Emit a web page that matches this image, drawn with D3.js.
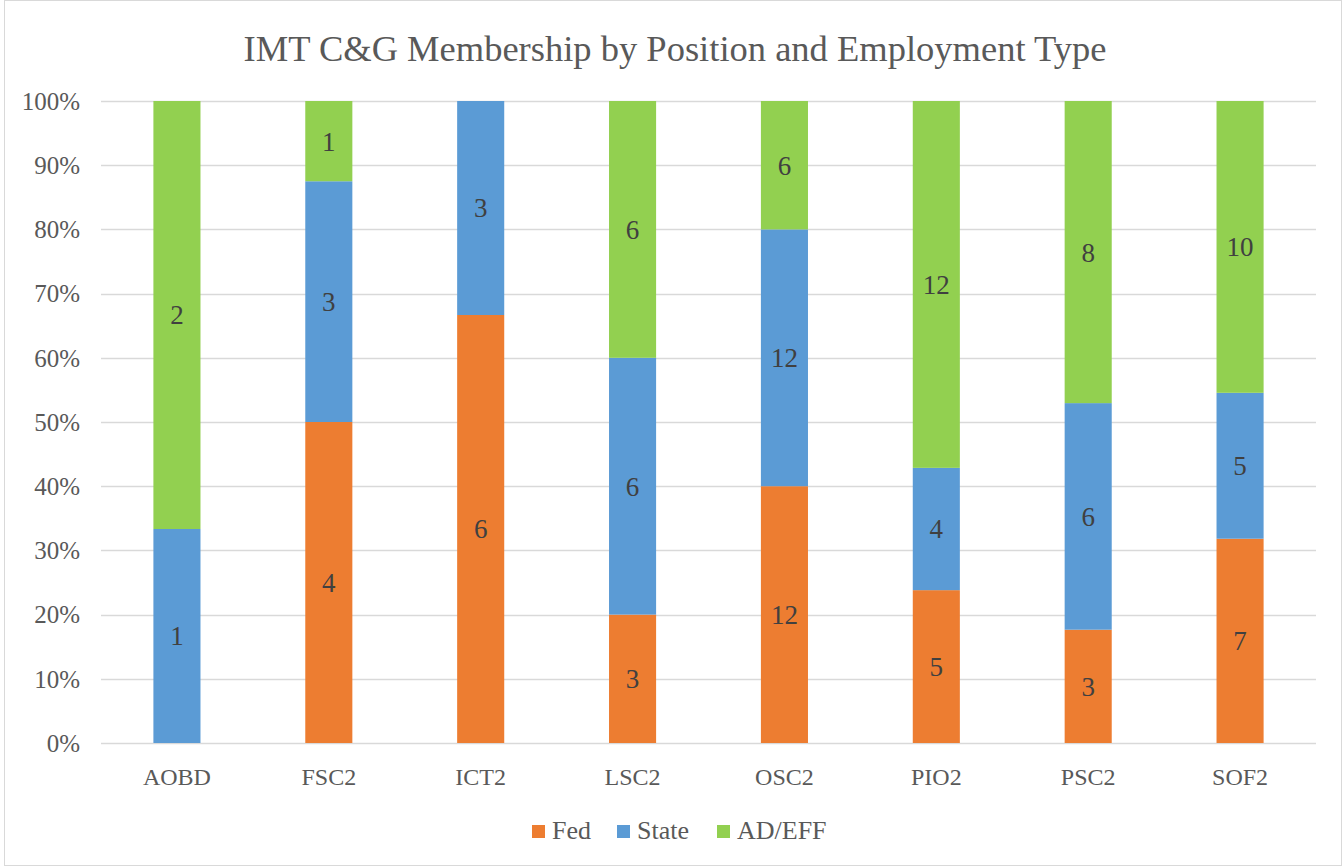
<!DOCTYPE html>
<html>
<head>
<meta charset="utf-8">
<script src="https://cdn.jsdelivr.net/npm/d3@7"></script>
<style>
  body { margin: 0; background: #fff; }
  svg { display: block; }
</style>
</head>
<body>
<div id="chart"></div>
<script>
// chart data
const categories = ['AOBD', 'FSC2', 'ICT2', 'LSC2', 'OSC2', 'PIO2', 'PSC2', 'SOF2'];
const seriesNames = ['Fed', 'State', 'AD/EFF'];
const fed   = [0, 4, 6, 3, 12, 5, 3, 7];
const state = [1, 3, 3, 6, 12, 4, 6, 5];
const adEff = [2, 1, 0, 6, 6, 12, 8, 10];
const yTicks = [0, 0.1, 0.2, 0.3, 0.4, 0.5, 0.6, 0.7, 0.8, 0.9, 1];

const colors = ['#ED7D31', '#5B9BD5', '#92D050'];
const serif = "'Liberation Serif', 'DejaVu Serif', serif";

const width = 1343;
const height = 867;
const margin = { top: 101, right: 27, bottom: 124, left: 101 };

const svg = d3.select('#chart')
    .append('svg')
    .attr('width', width)
    .attr('height', height);

// chart border
svg.append('rect')
    .attr('x', 4.5).attr('y', 0.5)
    .attr('width', width - 6).attr('height', height - 2)
    .attr('fill', '#fff')
    .attr('stroke', '#d9d9d9');

const x = d3.scaleBand()
    .domain(categories)
    .range([margin.left, width - margin.right])
    .paddingInner(0.69)
    .paddingOuter(0.345);

const y = d3.scaleLinear()
    .domain([0, 1])
    .range([height - margin.bottom, margin.top]);

// gridlines
svg.append('g')
    .selectAll('line')
    .data(yTicks)
    .join('line')
    .attr('x1', margin.left)
    .attr('x2', width - margin.right)
    .attr('y1', d => Math.round(y(d)) + 0.5)
    .attr('y2', d => Math.round(y(d)) + 0.5)
    .attr('stroke', '#d9d9d9')
    .attr('stroke-width', 1.5);

// y tick labels
svg.append('g')
    .selectAll('text')
    .data(yTicks)
    .join('text')
    .attr('x', 80)
    .attr('y', d => y(d))
    .attr('dy', '0.35em')
    .attr('text-anchor', 'end')
    .style('font-family', serif)
    .style('font-size', '25px')
    .style('fill', '#595959')
    .text(d => d3.format('.0%')(d));

// stack data
const rows = categories.map((c, i) => {
    const total = fed[i] + state[i] + adEff[i];
    return { cat: c, 'Fed': fed[i] / total, 'State': state[i] / total, 'AD/EFF': adEff[i] / total,
             raw: { 'Fed': fed[i], 'State': state[i], 'AD/EFF': adEff[i] } };
});

const stacked = d3.stack().keys(seriesNames)(rows);

const layer = svg.append('g')
    .selectAll('g')
    .data(stacked)
    .join('g')
    .attr('fill', (d, i) => colors[i]);

layer.selectAll('rect')
    .data(d => d)
    .join('rect')
    .attr('x', d => x(d.data.cat))
    .attr('width', x.bandwidth())
    .attr('y', d => y(d[1]))
    .attr('height', d => y(d[0]) - y(d[1]));

// data labels
layer.selectAll('text')
    .data(d => d.map(v => Object.assign({ key: d.key }, v)))
    .join('text')
    .filter(d => d.data.raw[d.key] > 0)
    .attr('x', d => x(d.data.cat) + x.bandwidth() / 2)
    .attr('y', d => y((d[0] + d[1]) / 2))
    .attr('dy', '0.35em')
    .attr('text-anchor', 'middle')
    .style('font-family', serif)
    .style('font-size', '27px')
    .style('fill', '#404040')
    .text(d => d.data.raw[d.key]);

// x category labels
svg.append('g')
    .selectAll('text')
    .data(categories)
    .join('text')
    .attr('x', d => x(d) + x.bandwidth() / 2)
    .attr('y', 785)
    .attr('text-anchor', 'middle')
    .style('font-family', serif)
    .style('font-size', '24px')
    .style('fill', '#595959')
    .text(d => d);

// title
svg.append('text')
    .attr('x', 675)
    .attr('y', 61)
    .attr('text-anchor', 'middle')
    .style('font-family', serif)
    .style('font-size', '36.5px')
    .style('fill', '#595959')
    .text('IMT C&G Membership by Position and Employment Type');

// legend
const legendX = [532, 617, 717];
const legend = svg.append('g')
    .selectAll('g')
    .data(seriesNames)
    .join('g')
    .attr('transform', (d, i) => `translate(${legendX[i]},825)`);

legend.append('rect')
    .attr('width', 13)
    .attr('height', 13)
    .attr('fill', (d, i) => colors[i]);

legend.append('text')
    .attr('x', 20)
    .attr('y', 14)
    .style('font-family', serif)
    .style('font-size', '26px')
    .style('fill', '#595959')
    .text(d => d);
</script>
</body>
</html>
